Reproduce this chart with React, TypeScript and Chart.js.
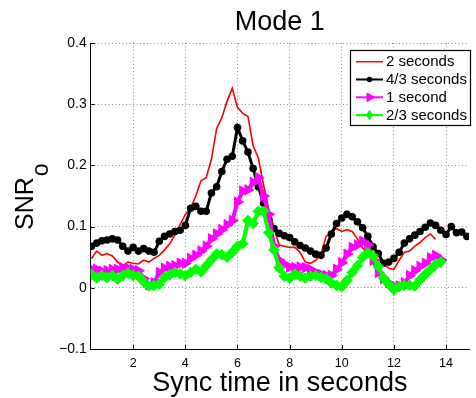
import { useEffect, useRef } from "react";
import { Chart, registerables } from "chart.js";

Chart.register(...registerables);

const TITLE = "Mode 1";
const X_LABEL = "Sync time in seconds";
const Y_LABEL = "SNR";
const Y_LABEL_SUB = "o";

const SERIES_LABELS = ["2 seconds", "4/3 seconds", "1 second", "2/3 seconds"];

const X_TICKS = [2, 4, 6, 8, 10, 12, 14];
const Y_TICKS = [-0.1, 0, 0.1, 0.2, 0.3, 0.4];
const Y_TICK_LABELS = ["\u22120.1", "0", "0.1", "0.2", "0.3", "0.4"];

const TIMES = [
  0.4, 0.6, 0.8, 1.0, 1.2, 1.4, 1.6, 1.8, 2.0, 2.2,
  2.4, 2.6, 2.8, 3.0, 3.2, 3.4, 3.6, 3.8, 4.0, 4.2,
  4.4, 4.6, 4.8, 5.0, 5.2, 5.4, 5.6, 5.8, 6.0, 6.2,
  6.4, 6.6, 6.8, 7.0, 7.2, 7.4, 7.6, 7.8, 8.0, 8.2,
  8.4, 8.6, 8.8, 9.0, 9.2, 9.4, 9.6, 9.8, 10.0, 10.2,
  10.4, 10.6, 10.8, 11.0, 11.2, 11.4, 11.6, 11.8, 12.0, 12.2,
  12.4, 12.6, 12.8, 13.0, 13.2, 13.4, 13.6, 13.8, 14.0, 14.2,
  14.4, 14.6, 14.8,
];

const SNR_2S = [
  0.048, 0.060, 0.053, 0.056, 0.052, 0.042, 0.036, 0.042, 0.040, 0.039,
  0.045, 0.042, 0.048, 0.053, 0.062, 0.072, 0.086, 0.103, 0.120, 0.130,
  0.150, 0.175, 0.180, 0.210, 0.260, 0.278, 0.305, 0.326, 0.295, 0.285,
  0.280, 0.232, 0.212, 0.168, 0.128, 0.098, 0.070, 0.068, 0.066, 0.066,
  0.058, 0.042, 0.040, 0.045, 0.055, 0.084, 0.090, 0.097, 0.092, 0.095,
  0.092, 0.080, 0.065, 0.055, 0.050, 0.046, 0.040, 0.032, 0.030, 0.045,
  0.058, 0.060, 0.068, 0.074, 0.082, 0.088, 0.079, null, null, null,
  null, null, null,
];

const SNR_43S = [
  0.068, 0.073, 0.077, 0.078, 0.080, 0.078, 0.068, 0.060, 0.066, 0.060,
  0.064, 0.060, 0.058, 0.076, 0.084, 0.088, 0.092, 0.094, 0.102, 0.130,
  0.133, 0.125, 0.125, 0.155, 0.165, 0.190, 0.210, 0.215, 0.262, 0.240,
  0.222, 0.195, 0.165, 0.138, 0.112, 0.097, 0.089, 0.085, 0.082, 0.075,
  0.069, 0.065, 0.060, 0.055, 0.053, 0.065, 0.088, 0.105, 0.114, 0.120,
  0.116, 0.108, 0.098, 0.084, 0.067, 0.056, 0.040, 0.042, 0.048, 0.058,
  0.073, 0.080, 0.086, 0.092, 0.099, 0.106, 0.102, 0.094, 0.087, 0.100,
  0.090, 0.091, 0.084,
];

const SNR_1S = [
  0.030, 0.030, 0.027, 0.028, 0.030, 0.030, 0.033, 0.032, 0.030, 0.028,
  0.015, 0.005, 0.008, 0.025, 0.032, 0.035, 0.036, 0.040, 0.040, 0.048,
  0.053, 0.060, 0.068, 0.080, 0.088, 0.095, 0.103, 0.110, 0.140, 0.158,
  0.160, 0.172, 0.180, 0.150, 0.120, 0.068, 0.045, 0.038, 0.034, 0.033,
  0.034, 0.033, 0.030, 0.025, 0.022, 0.020, 0.020, 0.030, 0.041, 0.055,
  0.066, 0.070, 0.076, 0.070, 0.045, 0.025, 0.015, 0.008, 0.002, 0.003,
  0.008, 0.020, 0.028, 0.035, 0.040, 0.049, 0.053, 0.046, null, null,
  null, null, null,
];

const SNR_23S = [
  0.022, 0.016, 0.020, 0.017, 0.020, 0.014, 0.020, 0.024, 0.020, 0.019,
  0.010, 0.003, 0.004, 0.006, 0.017, 0.021, 0.025, 0.023, 0.020, 0.025,
  0.030, 0.026, 0.036, 0.046, 0.055, 0.054, 0.050, 0.058, 0.068, 0.072,
  0.110, 0.105, 0.125, 0.125, 0.090, 0.062, 0.033, 0.019, 0.016, 0.022,
  0.019, 0.016, 0.019, 0.020, 0.017, 0.015, 0.008, 0.004, 0.002, 0.012,
  0.025, 0.036, 0.050, 0.057, 0.052, 0.035, 0.016, 0.006, -0.003, 0.002,
  0.004, 0.004, 0.003, 0.013, 0.022, 0.030, 0.038, 0.042, null, null,
  null, null, null,
];

const FONT = "'Liberation Sans', Arial, Helvetica, sans-serif";

function drawMarker(ctx: CanvasRenderingContext2D, style: string, x: number, y: number, r: number, fill: string, stroke: string, lw: number) {
  ctx.save();
  ctx.fillStyle = fill;
  ctx.strokeStyle = stroke;
  ctx.lineWidth = lw;
  ctx.beginPath();
  if (style === "circle") {
    ctx.arc(x, y, r, 0, Math.PI * 2);
  } else if (style === "triangleRight") {
    ctx.moveTo(x + r, y);
    ctx.lineTo(x - r * 0.6, y - r * 0.85);
    ctx.lineTo(x - r * 0.6, y + r * 0.85);
    ctx.closePath();
  } else if (style === "diamond") {
    ctx.moveTo(x, y - r);
    ctx.lineTo(x + r * 0.7, y);
    ctx.lineTo(x, y + r);
    ctx.lineTo(x - r * 0.7, y);
    ctx.closePath();
  }
  ctx.fill();
  if (lw > 0) ctx.stroke();
  ctx.restore();
}

const decorPlugin = {
  id: "decor",
  afterDraw(chart: any) {
    const ctx: CanvasRenderingContext2D = chart.ctx;
    const area = chart.chartArea;
    const cx = (area.left + area.right) / 2;
    const xs = chart.scales.x;
    const ys = chart.scales.y;

    ctx.save();
    // inward tick marks
    ctx.strokeStyle = "#000";
    ctx.lineWidth = 1;
    ctx.beginPath();
    X_TICKS.forEach((v) => {
      const px = Math.round(xs.getPixelForValue(v)) + 0.5;
      ctx.moveTo(px, area.bottom);
      ctx.lineTo(px, area.bottom - 4);
    });
    Y_TICKS.forEach((v) => {
      const py = Math.round(ys.getPixelForValue(v)) + 0.5;
      ctx.moveTo(area.left, py);
      ctx.lineTo(area.left + 4, py);
    });
    ctx.stroke();

    // title
    ctx.fillStyle = "#000";
    ctx.font = `27px ${FONT}`;
    ctx.textAlign = "center";
    ctx.textBaseline = "alphabetic";
    ctx.fillText(TITLE, cx, 29.5);

    // x label
    ctx.font = `27px ${FONT}`;
    ctx.fillText(X_LABEL, cx, 390.5);

    // y label with subscript
    ctx.save();
    ctx.translate(33, 230);
    ctx.rotate(-Math.PI / 2);
    ctx.textAlign = "left";
    ctx.font = `25px ${FONT}`;
    ctx.fillText(Y_LABEL, 0, 0);
    const w = ctx.measureText(Y_LABEL).width;
    ctx.font = `23px ${FONT}`;
    ctx.fillText(Y_LABEL_SUB, w + 1, 15);
    ctx.restore();

    // legend
    const bx = 350.5, by = 50.5, bw = 120, bh = 75;
    ctx.fillStyle = "#fff";
    ctx.fillRect(bx, by, bw, bh);
    ctx.strokeStyle = "#000";
    ctx.lineWidth = 1.2;
    ctx.strokeRect(bx, by, bw, bh);
    const markers = ["none", "circle", "triangleRight", "diamond"];
    chart.data.datasets.forEach((ds: any, i: number) => {
      const y = 61.7 + i * 17.8;
      ctx.strokeStyle = ds.borderColor;
      ctx.lineWidth = i === 0 ? 1.5 : 2;
      ctx.beginPath();
      ctx.moveTo(356, y);
      ctx.lineTo(383, y);
      ctx.stroke();
      const m = markers[i];
      if (m === "circle") drawMarker(ctx, m, 369.5, y, 2.8, ds.borderColor, ds.borderColor, 0);
      if (m === "triangleRight") drawMarker(ctx, m, 370, y, 5, ds.borderColor, ds.borderColor, 1);
      if (m === "diamond") drawMarker(ctx, m, 369.5, y, 4.5, ds.borderColor, ds.borderColor, 1);
      ctx.fillStyle = "#000";
      ctx.font = `15px ${FONT}`;
      ctx.textAlign = "left";
      ctx.textBaseline = "middle";
      ctx.fillText(ds.label, 386, y + 0.5);
    });
    ctx.restore();
  },
};

export default function App() {
  const ref = useRef<HTMLCanvasElement>(null);

  useEffect(() => {
    const canvas = ref.current;
    if (!canvas) return;
    const mk = (vals: (number | null)[]) => TIMES.map((t, i) => ({ x: t, y: vals[i] }));
    const gridColor = (c: any) =>
      c.tick && (c.tick.value === -0.1) ? "rgba(0,0,0,0)" : "rgba(0,0,0,0.42)";

    const chart = new Chart(canvas, {
      type: "line",
      data: {
        datasets: [
          {
            label: SERIES_LABELS[0],
            data: mk(SNR_2S),
            borderColor: "#ff0000",
            borderWidth: 1.6,
            pointRadius: 0,
            order: 3,
          },
          {
            label: SERIES_LABELS[1],
            data: mk(SNR_43S),
            borderColor: "#000000",
            borderWidth: 3,
            pointStyle: "circle",
            pointRadius: 3.8,
            pointBackgroundColor: "#000000",
            pointBorderColor: "#000000",
            pointBorderWidth: 0,
            order: 2,
          },
          {
            label: SERIES_LABELS[2],
            data: mk(SNR_1S),
            borderColor: "#ff00ff",
            borderWidth: 4,
            pointStyle: "triangle",
            pointRotation: 90,
            pointRadius: 6,
            pointBackgroundColor: "#ff00ff",
            pointBorderColor: "#ff00ff",
            pointBorderWidth: 1,
            order: 1,
          },
          {
            label: SERIES_LABELS[3],
            data: mk(SNR_23S),
            borderColor: "#00ff00",
            borderWidth: 4,
            pointStyle: "rectRot",
            pointRadius: 5.3,
            pointBackgroundColor: "#00ff00",
            pointBorderColor: "#00ff00",
            pointBorderWidth: 1,
            order: 0,
          },
        ] as any,
      },
      options: {
        responsive: false,
        animation: false,
        devicePixelRatio: 1,
        layout: { padding: { top: 43, right: 0, left: 0, bottom: 0 } },
        elements: { line: { tension: 0 } },
        plugins: {
          legend: { display: false },
          tooltip: { enabled: false },
          title: { display: false },
        },
        scales: {
          x: {
            type: "linear",
            min: 0.37,
            max: 14.88,
            afterBuildTicks: (s: any) => {
              s.ticks = X_TICKS.map((v) => ({ value: v }));
            },
            afterFit: (s: any) => {
              s.height = 49;
            },
            grid: { color: gridColor, lineWidth: 1, drawTicks: false },
            border: { display: true, color: "#000", width: 1, dash: [1, 2.5] },
            ticks: {
              color: "#000",
              padding: 7,
              font: { family: FONT, size: 12.5 },
              callback: (v: any) => String(v),
            },
          },
          y: {
            type: "linear",
            min: -0.1,
            max: 0.4,
            afterBuildTicks: (s: any) => {
              s.ticks = Y_TICKS.map((v) => ({ value: v }));
            },
            afterFit: (s: any) => {
              s.width = 90.7;
            },
            grid: { color: gridColor, lineWidth: 1, drawTicks: false },
            border: { display: true, color: "#000", width: 1, dash: [1, 2.5] },
            ticks: {
              color: "#000",
              padding: 4,
              font: { family: FONT, size: 14 },
              callback: (_v: any, i: number) => Y_TICK_LABELS[i],
            },
          },
        },
      } as any,
      plugins: [decorPlugin],
    });
    return () => chart.destroy();
  }, []);

  return (
    <div style={{ position: "fixed", left: 0, top: 0, width: 476, height: 398, background: "#fff" }}>
      <canvas ref={ref} width={476} height={398} />
    </div>
  );
}
